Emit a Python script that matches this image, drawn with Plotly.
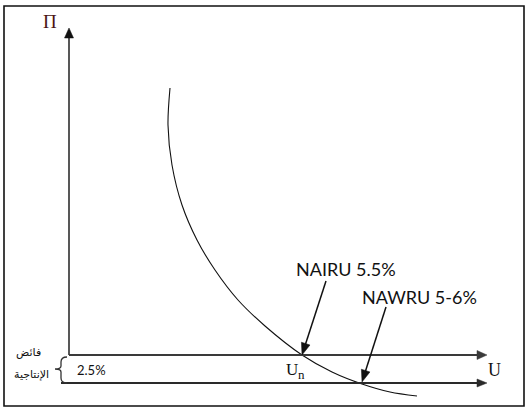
import math
import plotly.graph_objects as go

W, H = 531, 412

# Phillips-type curve (diagram coordinates)
curve_x = [170, 168, 172, 182, 197, 215, 238, 265, 302, 332, 362, 390, 417]
curve_y = [88, 125, 165, 205, 240, 270, 300, 326, 355, 372, 384, 392, 396]

# axes (tail -> tip)
axis_pi = [(69, 355), (69, 28)]
axis_u_upper = [(69, 355), (487, 355)]
axis_u_lower = [(61, 383), (487, 383)]

# pointer arrows (tail -> tip)
nairu_arrow = [(326, 281), (302, 355)]
nawru_arrow = [(386, 307), (362, 382)]

labels = {
    "pi": "Π",
    "u": "U",
    "un_main": "U",
    "un_sub": "n",
    "nairu": "NAIRU 5.5%",
    "nawru": "NAWRU 5-6%",
    "gap": "2.5%",
    "ar1": "فائض",
    "ar2": "الإنتاجية",
}

fig = go.Figure()

fig.add_trace(go.Scatter(x=curve_x, y=curve_y, mode="lines",
                         line=dict(color="#111111", width=1.1, shape="spline", smoothing=0.9),
                         hoverinfo="skip", showlegend=False))

def arrow(seg, width=1.6, color="#222222", head_len=10, head_w=9):
    (x0, y0), (x1, y1) = seg
    dx, dy = x1 - x0, y1 - y0
    L = math.hypot(dx, dy)
    ux, uy = dx / L, dy / L
    nx, ny = -uy, ux
    bx, by = x1 - head_len * ux, y1 - head_len * uy
    fig.add_shape(type="line", x0=x0, y0=y0, x1=bx + ux, y1=by + uy, xref="x", yref="y",
                  line=dict(color=color, width=width))
    p = (f"M {x1},{y1} L {bx + nx * head_w / 2},{by + ny * head_w / 2} "
         f"L {bx - nx * head_w / 2},{by - ny * head_w / 2} Z")
    fig.add_shape(type="path", path=p, xref="x", yref="y", fillcolor=color,
                  line=dict(color=color, width=0.5))

arrow(axis_pi, width=1.4, color="#111111", head_len=10, head_w=9)
arrow(axis_u_upper, width=2.2, color="#3a3a3a", head_len=10, head_w=9)
arrow(axis_u_lower, width=1.8, color="#2a2a2a", head_len=10, head_w=8)
arrow(nairu_arrow, width=1.5, color="#111111", head_len=12, head_w=9)
arrow(nawru_arrow, width=1.5, color="#111111", head_len=12, head_w=9)

# outer frame
fig.add_shape(type="rect", x0=4, y0=6, x1=524, y1=406, xref="x", yref="y",
              line=dict(color="#111111", width=1.6))

# left brace
brace = "M 67,357 Q 61,357 61,362 L 61,366 Q 61,369 55,369 Q 61,369 61,372 L 61,378 Q 61,383 67,383"
fig.add_shape(type="path", path=brace, xref="x", yref="y",
              line=dict(color="#333333", width=1.3))

def text(x, y, t, size, family, color="#111111", xanchor="center"):
    fig.add_annotation(x=x, y=y, xref="x", yref="y", text=t, showarrow=False,
                       xanchor=xanchor, yanchor="middle",
                       font=dict(size=size, family=family, color=color))

serif = "Liberation Serif, DejaVu Serif, serif"
sans = "Lato, Liberation Sans, sans-serif"
arab = "DejaVu Sans, Noto Sans, sans-serif"
text(50, 21, labels["pi"], 19, serif, color="#4a1414")
text(494, 370, labels["u"], 18, serif)
text(292, 369, labels["un_main"], 17, serif)
text(301, 374, labels["un_sub"], 13, serif)
text(346, 269, labels["nairu"], 18, sans)
text(419, 297, labels["nawru"], 18, sans)
text(91, 370, labels["gap"], 13, sans)
text(28, 352, labels["ar1"], 11, arab)
text(31, 374, labels["ar2"], 11, arab)

fig.update_xaxes(range=[0, W], visible=False, fixedrange=True)
fig.update_yaxes(range=[H, 0], visible=False, fixedrange=True)
fig.update_layout(width=W, height=H, margin=dict(l=0, r=0, t=0, b=0),
                  paper_bgcolor="white", plot_bgcolor="white", showlegend=False)

fig.write_html("out.html", config={"displayModeBar": False},
               post_script="document.body.style.margin='0';document.body.style.overflow='hidden';")
